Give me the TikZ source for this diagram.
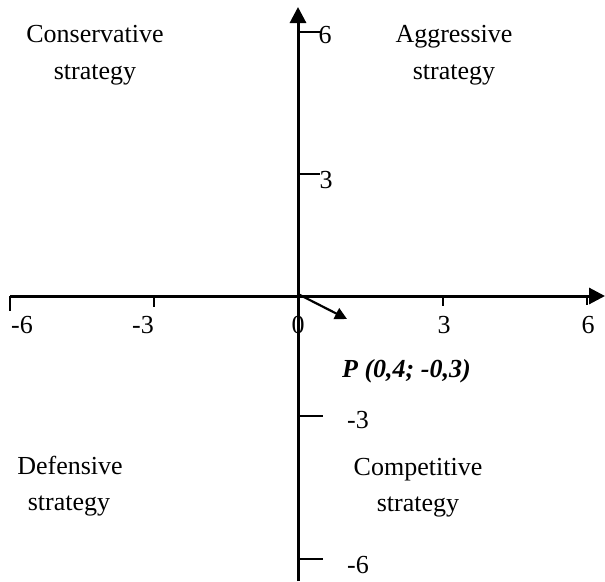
\documentclass[tikz,border=0pt]{standalone}
\usepackage{fontspec}
\setmainfont{Liberation Serif}
\usetikzlibrary{arrows.meta}
\begin{document}
\begin{tikzpicture}[x=1pt,y=-1pt,
  axis/.style={line width=3pt,-{Triangle[length=16pt,width=16pt]}},
  tickmark/.style={line width=1.8pt},
  vec/.style={line width=2.2pt,-{Triangle[length=12pt,width=12pt]}},
  lbl/.style={font=\fontsize{26}{30}\selectfont, inner sep=0pt, anchor=base},
  plbl/.style={font=\fontsize{26}{30}\selectfont\bfseries\itshape, inner sep=0pt, anchor=base west}]
\useasboundingbox (0,0) rectangle (605,581);
% axes
\coordinate (xl) at (10,296);
\coordinate (xr) at (605,296);
\coordinate (yb) at (298,581);
\coordinate (yt) at (298,7);
\coordinate (O) at (298,294);
\coordinate (Pt) at (347,319);
\draw[axis] (xl) -- (xr);
\draw[axis] (yb) -- (yt);
% horizontal ticks
\draw[tickmark] (10,296) -- (10,311);
\draw[tickmark] (154,296) -- (154,307);
\draw[tickmark] (443,296) -- (443,306);
\draw[tickmark] (587,296) -- (587,305);
% vertical ticks
\draw[tickmark] (298,32) -- (320,32);
\draw[tickmark] (298,174) -- (320,174);
\draw[tickmark] (298,416) -- (323,416);
\draw[tickmark] (298,559) -- (323,559);
% vector
\draw[vec] (O) -- (Pt);
% tick labels
\node[lbl] (xm6) at (22,333) {-6};
\node[lbl] (xm3) at (143,333) {-3};
\node[lbl] (x0) at (298,333) {0};
\node[lbl] (x3) at (444,333) {3};
\node[lbl] (x6) at (588,333) {6};
\node[lbl] (y6) at (325,43) {6};
\node[lbl] (y3) at (326,188) {3};
\node[lbl] (ym3) at (358,428) {-3};
\node[lbl] (ym6) at (358,573) {-6};
% point label
\node[plbl] (P) at (342,377) {P (0,4; -0,3)};
% quadrant labels
\node[lbl] (c1) at (95,42) {Conservative};
\node[lbl] (c2) at (95,79) {strategy};
\node[lbl] (a1) at (454,42) {Aggressive};
\node[lbl] (a2) at (454,79) {strategy};
\node[lbl] (d1) at (70,474) {Defensive};
\node[lbl] (d2) at (69,510) {strategy};
\node[lbl] (k1) at (418,475) {Competitive};
\node[lbl] (k2) at (418,511) {strategy};
\end{tikzpicture}
\end{document}
